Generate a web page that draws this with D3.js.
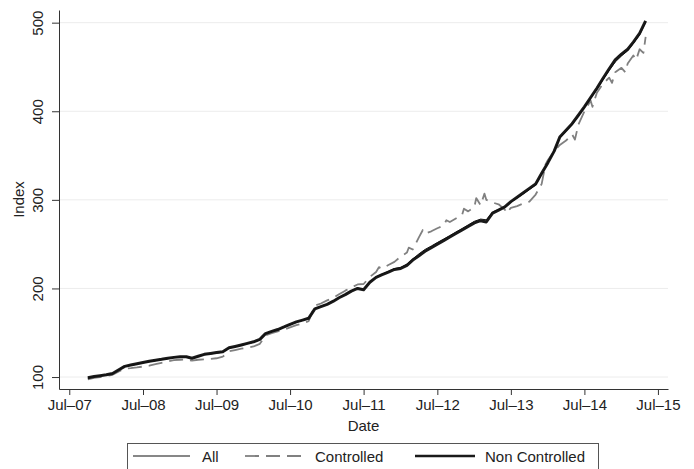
<!DOCTYPE html>
<html>
<head>
<meta charset="utf-8">
<script src="https://cdn.jsdelivr.net/npm/d3@7"></script>
<style>
  html, body { margin: 0; padding: 0; background: #fff; }
  svg { display: block; font-family: "Liberation Sans", Arial, Helvetica, sans-serif; }
</style>
</head>
<body>
<svg id="chart" width="694" height="469"></svg>
<script>
// Monthly index levels, October 2007 through May 2015
const firstMonth = new Date(2007, 9, 1);
const lastMonth = new Date(2015, 4, 1);

const nonControlled = [
  99.2, 100.5, 101.5, 102.5, 104, 108, 112, 113.5, 115, 116.5,
  117.8, 119, 120, 121.2, 122.2, 122.8, 122.9, 121.2, 123.5, 125.6,
  126.6, 127.6, 128.6, 133, 134.5, 136.2, 138, 139.8, 142.5, 149,
  151.5, 153.6, 156.5, 159.5, 162.2, 164.3, 166.3, 177, 179.5, 182,
  185.6, 189.5, 193, 197, 200, 198.5, 207, 212.5, 215.5, 218.5,
  221.5, 222.5, 226, 232, 237, 242, 246, 250, 254, 258,
  262, 266, 270, 274, 276.5, 275, 285, 288.5, 292, 298,
  303, 308, 313, 318, 330, 342, 355, 371, 378.5, 386,
  395.5, 405, 415.5, 426, 437, 448, 458, 464.5, 470, 478,
  488, 502
];

const controlled = [
  97.5, 99, 100, 101, 102.5, 106, 109.5, 110, 110.8, 111.8,
  112.8, 114.5, 116, 117.5, 119, 119.5, 119.8, 118.5, 119.5, 120,
  120.5, 121.2, 123, 129, 130.5, 132, 133, 134.5, 137.5, 147,
  149.5, 151.5, 153.5, 156, 158.5, 160.5, 163, 180.5, 183, 186.5,
  189.5, 193.5, 197.5, 201, 204.5, 205, 213, 218.5, 222.5, 226.5,
  230, 236, 240.5, 244, 258, 262, 264.5, 268, 271, 275,
  279, 283, 287, 292, 294, 300, 297, 295, 289, 291,
  293, 296, 298, 306, 318, 345, 355, 362, 367, 374,
  385, 400, 412, 421, 431, 438, 444, 449, 454, 463,
  470, 484
];

// Short-lived swings in the controlled index between month starts
const controlledSwingDates = [
  "2011-09-15", "2012-02-10", "2012-04-20", "2012-08-15", "2012-11-10",
  "2013-01-10", "2013-02-20", "2013-06-10", "2013-12-20", "2014-05-15",
  "2014-08-10", "2014-11-15", "2015-01-20", "2015-03-15", "2015-04-20"
];
const controlledSwingValues = [
  224, 246, 266, 277, 290,
  302, 307, 285, 340, 368,
  405, 432, 444, 458, 466
];

const allSeries = [
  99, 100.4, 101.4, 102.4, 103.9, 107.8, 111.8, 113.2, 114.6, 116.1,
  117.3, 118.5, 119.6, 120.8, 121.9, 122.5, 122.6, 120.9, 123.1, 125.1,
  126.1, 127, 128, 132.6, 134.1, 135.8, 137.5, 139.3, 142, 148.8,
  151.3, 153.3, 156.2, 159.1, 161.8, 164, 166, 177.3, 179.9, 182.4,
  186, 189.9, 193.5, 197.5, 200.5, 199.2, 207.6, 213.1, 216.2, 219.3,
  222.4, 223.9, 227.5, 233.2, 239.1, 244, 247.9, 251.8, 255.7, 259.7,
  263.7, 267.7, 271.7, 275.8, 278.3, 277.5, 286.2, 289.2, 291.7, 297.3,
  302, 306.8, 311.5, 316.7, 328.8, 342.3, 355, 370.1, 377.3, 384.8,
  394.5, 404.5, 414.6, 424.5, 435.4, 445.9, 455.6, 462.4, 468.3, 476.5,
  486.2, 500.3
];

const yTickValues = [100, 200, 300, 400, 500];
const xTickYears = [2007, 2008, 2009, 2010, 2011, 2012, 2013, 2014, 2015];
const legendLabels = ["All", "Controlled", "Non Controlled"];

const months = d3.timeMonth.range(firstMonth, d3.timeMonth.offset(lastMonth, 1));
const parseDay = d3.timeParse("%Y-%m-%d");

const svg = d3.select("#chart");
const plot = { left: 59, right: 668, top: 10, bottom: 389 };

const x = d3.scaleTime()
  .domain([new Date(2007, 4, 11), new Date(2015, 7, 20)])
  .range([plot.left, plot.right]);

const y = d3.scaleLinear()
  .domain([86.5, 514.3])
  .range([plot.bottom, plot.top]);

// horizontal grid
svg.append("g")
  .selectAll("line")
  .data(yTickValues)
  .join("line")
  .attr("x1", plot.left).attr("x2", plot.right)
  .attr("y1", d => y(d)).attr("y2", d => y(d))
  .attr("stroke", "#ececec")
  .attr("stroke-width", 1);

// y axis
const yAxis = svg.append("g")
  .attr("transform", `translate(${plot.left},0)`)
  .call(d3.axisLeft(y).tickValues(yTickValues).tickSize(7).tickSizeOuter(0).tickPadding(0));
yAxis.select(".domain").attr("stroke", "#333");
yAxis.selectAll(".tick line").attr("stroke", "#333");
yAxis.selectAll(".tick text")
  .attr("fill", "#222")
  .attr("font-size", 15)
  .attr("text-anchor", "middle")
  .attr("dy", null)
  .attr("x", null)
  .attr("transform", "translate(-16,0) rotate(-90)")
  .attr("y", 0);

// x axis
const fmt = d => "Jul\u2013" + d3.timeFormat("%y")(d);
const xAxis = svg.append("g")
  .attr("transform", `translate(0,${plot.bottom})`)
  .call(d3.axisBottom(x)
    .tickValues(xTickYears.map(yr => new Date(yr, 6, 1)))
    .tickFormat(fmt)
    .tickSize(6).tickSizeOuter(0).tickPadding(4));
xAxis.select(".domain").attr("stroke", "#333");
xAxis.selectAll(".tick line").attr("stroke", "#333");
xAxis.selectAll(".tick text").attr("fill", "#222").attr("font-size", 15);

// axis titles
svg.append("text")
  .attr("x", (plot.left + plot.right) / 2).attr("y", 431)
  .attr("text-anchor", "middle")
  .attr("font-size", 15).attr("fill", "#222")
  .text("Date");
svg.append("text")
  .attr("transform", `translate(24,${(plot.top + plot.bottom) / 2}) rotate(-90)`)
  .attr("text-anchor", "middle")
  .attr("font-size", 15).attr("fill", "#222")
  .text("Index");

// series
const line = d3.line()
  .x(d => x(d.date))
  .y(d => y(d.value));
const toPoints = vals => vals.map((v, i) => ({ date: months[i], value: v }));

const controlledPoints = toPoints(controlled)
  .concat(controlledSwingDates.map((s, i) => ({ date: parseDay(s), value: controlledSwingValues[i] })))
  .sort((a, b) => a.date - b.date);

const styles = {
  "All": { stroke: "#111", width: 1, dash: null },
  "Controlled": { stroke: "#808080", width: 1.8, dash: "14,7" },
  "Non Controlled": { stroke: "#1a1a1a", width: 3, dash: null }
};

const seriesData = [
  { name: "Controlled", points: controlledPoints },
  { name: "Non Controlled", points: toPoints(nonControlled) },
  { name: "All", points: toPoints(allSeries) }
];

svg.append("g")
  .selectAll("path")
  .data(seriesData)
  .join("path")
  .attr("d", d => line(d.points))
  .attr("fill", "none")
  .attr("stroke", d => styles[d.name].stroke)
  .attr("stroke-width", d => styles[d.name].width)
  .attr("stroke-dasharray", d => styles[d.name].dash)
  .attr("stroke-linejoin", "round");

// legend
const legend = svg.append("g");
legend.append("rect")
  .attr("x", 127.5).attr("y", 443.5)
  .attr("width", 471).attr("height", 40)
  .attr("fill", "#fff").attr("stroke", "#555").attr("stroke-width", 1);

const legendItems = [
  { name: legendLabels[0], x1: 133, x2: 190, tx: 202 },
  { name: legendLabels[1], x1: 245, x2: 303, tx: 315 },
  { name: legendLabels[2], x1: 415, x2: 475, tx: 485 }
];
legendItems.forEach(it => {
  const s = styles[it.name];
  legend.append("line")
    .attr("x1", it.x1).attr("x2", it.x2)
    .attr("y1", 456).attr("y2", 456)
    .attr("stroke", s.stroke)
    .attr("stroke-width", it.name === "Non Controlled" ? 2.4 : s.width === 1 ? 1.2 : 1.8)
    .attr("stroke-dasharray", s.dash);
  legend.append("text")
    .attr("x", it.tx).attr("y", 462)
    .attr("font-size", 15).attr("fill", "#222")
    .text(it.name);
});
</script>
</body>
</html>
